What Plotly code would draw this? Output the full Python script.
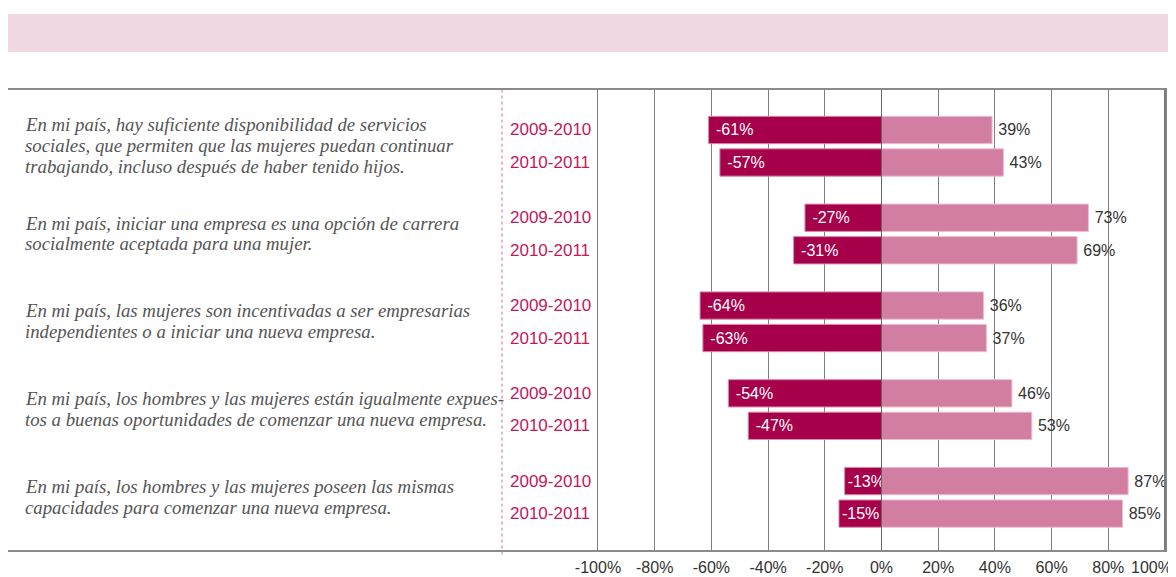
import plotly.graph_objects as go

questions = [
    ["En mi país, hay suficiente disponibilidad de servicios",
     "sociales, que permiten que las mujeres puedan continuar",
     "trabajando, incluso después de haber tenido hijos."],
    ["En mi país, iniciar una empresa es una opción de carrera",
     "socialmente aceptada para una mujer."],
    ["En mi país, las mujeres son incentivadas a ser empresarias",
     "independientes o a iniciar una nueva empresa."],
    ["En mi país, los hombres y las mujeres están igualmente expues-",
     "tos a buenas oportunidades de comenzar una nueva empresa."],
    ["En mi país, los hombres y las mujeres poseen las mismas",
     "capacidades para comenzar una nueva empresa."],
]
periods = ["2009-2010", "2010-2011"]
# values per question: [2009-2010, 2010-2011]
negative = [[-61, -57], [-27, -31], [-64, -63], [-54, -47], [-13, -15]]
positive = [[39, 43], [73, 69], [36, 37], [46, 53], [87, 85]]
tick_vals = [-100, -80, -60, -40, -20, 0, 20, 40, 60, 80, 100]
tick_text = ["-100%", "-80%", "-60%", "-40%", "-20%", "0%", "20%", "40%", "60%", "80%", "100%"]

GROUP_STEP = 2.7
PX_PER_UNIT = 32.5
LINE_STEP = 20.7 / PX_PER_UNIT

ys, negs, poss = [], [], []
for g in range(len(questions)):
    for k in range(len(periods)):
        ys.append(g * GROUP_STEP + k)
        negs.append(negative[g][k])
        poss.append(positive[g][k])

neg_text = [("\u00a0" if abs(v) > 20 else "") + f"{v}%" for v in negs]

fig = go.Figure()
fig.add_trace(go.Bar(
    y=ys, x=negs, orientation="h", width=0.84,
    marker=dict(color="#a6004a", line=dict(color="#d98aa9", width=1)),
    text=neg_text, textposition="inside", insidetextanchor="end",
    constraintext="none",
    textfont=dict(color="white", size=16, family="Liberation Sans, Arial"),
    hoverinfo="skip", showlegend=False,
))
fig.add_trace(go.Bar(
    y=ys, x=poss, orientation="h", width=0.84,
    marker=dict(color="#d17ea1", line=dict(color="#ebbdd0", width=1)),
    text=[f"\u2009{v}%" for v in poss], textposition="outside",
    constraintext="none", cliponaxis=False,
    textfont=dict(color="#333333", size=16, family="Liberation Sans, Arial"),
    hoverinfo="skip", showlegend=False,
))

TICK_FONT = dict(family="Liberation Sans, Arial", size=16, color="#333333")

annotations = []
for g, lines in enumerate(questions):
    yc = g * GROUP_STEP + 0.5 - 0.02
    n = len(lines)
    for i, line in enumerate(lines):
        annotations.append(dict(
            x=15 / 1157, xref="paper", y=yc + (i - (n - 1) / 2) * LINE_STEP, yref="y",
            text=f"<i>{line}</i>", showarrow=False,
            xanchor="left", yanchor="middle", align="left",
            font=dict(family="Liberation Serif, Times New Roman, serif", size=18.8, color="#555555"),
        ))
    for k, p in enumerate(periods):
        annotations.append(dict(
            x=-131.9, xref="x", y=g * GROUP_STEP + k, yref="y", text=p, showarrow=False,
            xanchor="left", yanchor="middle",
            font=dict(family="Liberation Sans, Arial", size=17, color="#c2185b"),
        ))

# last tick label drawn right-aligned at its tick so it stays inside the page
annotations.append(dict(
    x=tick_vals[-1], xref="x", y=0, yref="paper", text=tick_text[-1], showarrow=False,
    xanchor="right", yanchor="top", xshift=9, yshift=-7, font=TICK_FONT,
))
axis_ticktext = tick_text[:-1] + [""]

shapes = [
    # top banner
    dict(type="rect", xref="paper", yref="paper", x0=0, x1=1.0026, y0=1.0826, y1=1.165,
         fillcolor="#f0d9e2", line=dict(width=0), layer="above"),
    # dashed pink separator
    dict(type="line", xref="x", yref="paper", x0=-133.85, x1=-133.85, y0=-0.01, y1=1.005,
         line=dict(color="#d46a92", width=1, dash="dot"), layer="above"),
    # zero line on top of bars
    dict(type="line", xref="x", yref="paper", x0=0, x1=0, y0=0, y1=1,
         line=dict(color="#666666", width=1), layer="above"),
    # right frame edge at 100%
    dict(type="line", xref="paper", yref="paper", x0=1, x1=1, y0=0, y1=1,
         line=dict(color="#7a7a7a", width=2), layer="above"),
]

fig.update_layout(
    width=1168, height=569,
    margin=dict(l=0, r=11, t=82, b=27, autoexpand=False),
    paper_bgcolor="white", plot_bgcolor="white",
    barmode="overlay",
    annotations=annotations, shapes=shapes,
    xaxis=dict(range=[-308.1, 100], tickvals=tick_vals, ticktext=axis_ticktext,
               showgrid=True, gridcolor="#808080", gridwidth=1, zeroline=False,
               showline=True, linecolor="#8a8a8a", linewidth=2, mirror=True,
               ticks="", ticklabelstandoff=2, automargin=False,
               tickfont=TICK_FONT),
    yaxis=dict(range=[12.92, -1.23], showticklabels=False, showgrid=False, zeroline=False,
               showline=True, linecolor="#8a8a8a", linewidth=2, mirror=True, ticks="",
               automargin=False),
)

fig.write_html("out.html")
